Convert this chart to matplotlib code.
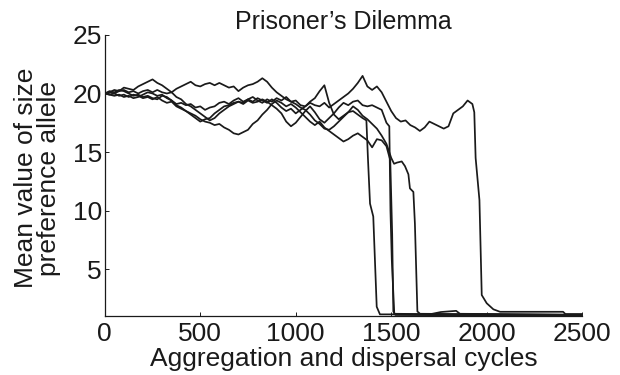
import numpy as np
import matplotlib
matplotlib.use("Agg")
import matplotlib.pyplot as plt

plt.rcParams['font.family'] = ['Liberation Sans', 'DejaVu Sans']

STEP = 25  # sampling interval (cycles) of the drifting part of each run

# mean size-preference allele, one list per simulation run,
# sampled every STEP cycles until the run starts to collapse
run1_walk = [20.0, 20.1, 20.0, 20.2, 20.3, 20.1, 20.2, 20.0, 20.2, 20.3,
             20.1, 20.3, 20.1, 20.0, 20.1, 20.4, 20.6, 20.8, 21.0, 20.7,
             20.6, 20.8, 20.9, 20.7, 20.9, 20.7, 20.5, 20.6, 20.2, 20.5,
             20.7, 20.8, 21.0, 21.3, 21.0, 20.5, 20.1, 19.8, 19.5, 19.3,
             19.4, 19.0, 18.9, 19.2, 19.0, 18.9, 19.2, 18.8, 19.1, 19.4,
             19.7, 20.0, 20.4, 20.9, 21.5, 20.6, 20.3, 20.6, 20.1, 19.3,
             18.5, 17.9, 17.6, 17.7, 17.3, 17.1, 16.8, 17.1, 17.6, 17.4,
             17.2, 17.0, 17.2, 18.3, 18.6, 18.9, 19.4, 19.1]
run1_tail_x = [1935, 1942, 1962, 1974, 2000, 2035, 2070, 2400, 2412, 2500]
run1_tail_y = [18.4, 14.5, 10.9, 2.8, 2.1, 1.58, 1.37, 1.37, 1.18, 1.18]

run2_walk = [20.0, 20.1, 20.3, 20.2, 20.5, 20.4, 20.3, 20.6, 20.8, 21.0,
             21.2, 20.9, 20.7, 20.4, 20.1, 19.7, 19.5, 19.1, 18.9, 18.6,
             18.3, 18.0, 17.7, 17.9, 18.3, 18.6, 18.9, 19.1, 19.3, 19.2,
             19.5, 19.3, 19.6, 19.4, 19.2, 19.5, 19.2, 18.8, 18.5, 18.7,
             18.3, 18.6, 18.9, 19.3, 19.6, 20.2, 20.7, 19.2, 18.2, 17.8,
             18.1, 18.4, 18.5, 18.2, 17.9]
run2_tail_x = [1370, 1378, 1389, 1406, 1424, 1441, 1700, 1760, 1800, 1840, 1860, 2500]
run2_tail_y = [17.7, 14.5, 10.6, 9.5, 1.8, 1.15, 1.15, 1.35, 1.4, 1.45, 1.2, 1.12]

run3_walk = [20.0, 19.9, 20.0, 19.8, 19.9, 19.7, 19.9, 19.8, 19.6, 19.7,
             19.5, 19.7, 19.4, 19.2, 19.3, 18.9, 18.7, 18.5, 18.2, 17.9,
             17.6, 17.8, 17.9, 18.3, 18.6, 18.9, 19.0, 19.2, 19.3, 19.1,
             19.4, 19.2, 19.3, 19.5, 19.3, 19.0, 18.7, 18.3, 17.6, 17.2,
             17.5, 18.0, 18.5, 18.9, 18.4, 17.8, 17.5, 17.9, 18.3, 18.8,
             19.2, 19.0, 19.3, 19.4, 19.0, 18.9, 19.0, 18.8, 18.6, 17.5]
run3_tail_x = [1490, 1496, 1503, 1516, 2500]
run3_tail_y = [17.2, 10.0, 5.8, 1.2, 1.05]

run4_walk = [20.0, 20.2, 20.1, 20.3, 20.2, 20.0, 19.8, 19.9, 19.7, 19.8,
             19.6, 19.5, 19.8, 19.7, 19.4, 19.1, 19.2, 19.0, 19.1, 18.8,
             18.9, 18.6, 18.8, 18.9, 19.2, 19.3, 19.1, 19.4, 19.6, 19.3,
             19.5, 19.7, 19.4, 19.2, 19.5, 19.3, 19.6, 19.4, 19.7, 19.3,
             19.1, 18.8, 18.6, 18.2, 17.7, 17.4, 17.0, 16.9, 17.2, 17.6,
             18.0, 18.4, 18.9, 18.6, 18.1, 17.8, 17.4, 17.0, 16.4, 15.7,
             14.5]
run4_tail_x = [1515, 1530, 1555, 1572, 1590, 1598, 1616, 1624, 1637, 1651, 2500]
run4_tail_y = [14.0, 14.1, 14.2, 13.8, 13.1, 11.9, 11.6, 8.9, 1.4, 1.2, 1.1]

run5_walk = [20.0, 19.9, 19.8, 19.9, 19.7, 19.8, 19.6, 19.7, 19.9, 20.1,
             20.0, 19.8, 19.9, 19.6, 19.4, 19.0, 18.8, 18.5, 18.3, 18.1,
             17.8, 17.6, 17.5, 17.3, 17.4, 17.1, 16.9, 16.6, 16.5, 16.7,
             16.9, 17.4, 17.7, 18.2, 18.6, 19.1, 19.4, 19.2, 18.9, 19.1,
             18.8, 18.4, 18.0, 17.6, 17.3, 17.6, 17.1, 16.8, 16.5, 16.2,
             15.9, 16.1, 16.4, 16.6, 16.3, 16.0, 15.4, 16.1, 16.0, 15.5]
run5_tail_x = [1495, 1505, 1511, 1522, 2500]
run5_tail_y = [14.3, 8.0, 1.4, 1.1, 1.02]

runs = [
    (run1_walk, run1_tail_x, run1_tail_y),
    (run2_walk, run2_tail_x, run2_tail_y),
    (run3_walk, run3_tail_x, run3_tail_y),
    (run4_walk, run4_tail_x, run4_tail_y),
    (run5_walk, run5_tail_x, run5_tail_y),
]

x_ticks = [0, 500, 1000, 1500, 2000, 2500]
y_ticks = [5, 10, 15, 20, 25]


def style_axes(ax):
    ax.spines['top'].set_visible(False)
    ax.spines['right'].set_visible(False)
    for side in ['left', 'bottom']:
        ax.spines[side].set_linewidth(0.9)
        ax.spines[side].set_color('#1a1a1a')
    ax.tick_params(direction='in', length=3, width=0.7, labelsize=19,
                   colors='#1a1a1a')
    ax.tick_params(axis='x', pad=4)
    ax.tick_params(axis='y', pad=2)


fig = plt.figure(figsize=(6.2, 3.75), dpi=100)
ax = fig.add_axes([0.169, 0.157, 0.77, 0.75])

for walk, tail_x, tail_y in runs:
    x = np.concatenate([STEP * np.arange(len(walk)), tail_x])
    y = np.concatenate([walk, tail_y])
    ax.plot(x, y, color='#1a1a1a', linewidth=1.25)

ax.set_xlim(0, 2500)
ax.set_ylim(1, 25)
ax.set_xticks(x_ticks)
ax.set_yticks(y_ticks)
style_axes(ax)

ax.set_title("Prisoner\u2019s Dilemma", fontsize=18, pad=4, color='#1a1a1a')
ax.set_xlabel("Aggregation and dispersal cycles", fontsize=19, labelpad=1,
              color='#1a1a1a')
ax.set_ylabel("Mean value of size\npreference allele", fontsize=19,
              color='#1a1a1a', linespacing=0.95, va='center')
ax.yaxis.set_label_coords(-0.14, 0.49)

fig.savefig("out.png", dpi=100)
